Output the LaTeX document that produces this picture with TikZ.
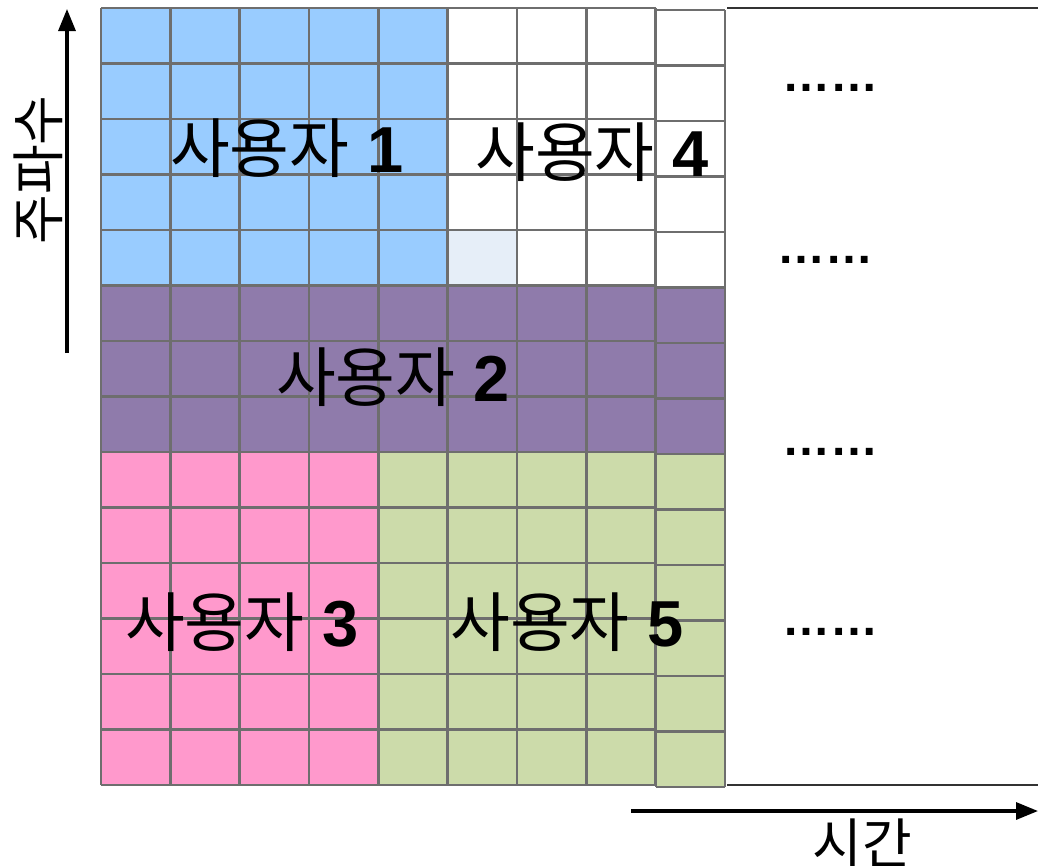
\documentclass[tikz,border=0pt]{standalone}
\usepackage{fontspec}
\setmainfont{Liberation Sans}
\newfontfamily\kr{Noto Sans CJK KR}
\usetikzlibrary{arrows.meta}
\definecolor{cblue}{HTML}{99CCFF}
\definecolor{cpurple}{HTML}{8F7BAB}
\definecolor{cpink}{HTML}{FF99CC}
\definecolor{cgreen}{HTML}{CCDBAA}
\definecolor{clight}{HTML}{E6EEF8}
\definecolor{cgrid}{HTML}{6E6E6E}
\tikzset{
  gl/.style={draw=cgrid, line width=2.8pt},
  user/.style={font=\fontsize{65}{67}\selectfont, inner sep=0pt},
  axislbl/.style={font=\kr\fontsize{54}{56}\selectfont, inner sep=0pt},
  dotslbl/.style={font=\fontsize{48}{50}\selectfont, inner sep=0pt},
  axarrow/.style={line width=3.2pt, -{Triangle[length=22pt,width=17pt]}},
  edge/.style={draw=black!80, line width=2.6pt}
}
\begin{document}
\begin{tikzpicture}[x=1pt,y=-1pt]
\useasboundingbox (0,0) rectangle (1038,865);
\def\X{69.333}\def\Y{55.5}
% fills, main columns 0-7
\fill[cblue] (101,8) rectangle (448,285.5);
\fill[white] (448,8) rectangle (656,285.5);
\fill[clight] (448,230) rectangle ({101+6*\X},285.5);
\fill[cpurple] (101,285.5) rectangle (656,452);
\fill[cpink] (101,452) rectangle (378,785);
\fill[cgreen] (378,452) rectangle (656,785);
% last column (slightly offset)
\fill[white] (656,10) rectangle (725,287.5);
\fill[cpurple] (656,287.5) rectangle (725,454);
\fill[cgreen] (656,454) rectangle (725,787);
% grid lines
\foreach \i in {0,...,8} \draw[gl] ({101+\i*\X},8) -- ({101+\i*\X},785);
\foreach \j in {0,...,14} \draw[gl] (101,{8+\j*\Y}) -- (656,{8+\j*\Y});
\foreach \j in {0,...,14} \draw[gl] (656,{10+\j*\Y}) -- (725,{10+\j*\Y});
\draw[gl] (656,10) -- (656,787);
\draw[gl] (725,10) -- (725,787);
% right open box
\draw[edge] (727,8) -- (1038,8);
\draw[edge] (727,785) -- (1038,785);
% labels
\node[user] (u1) at (287,148) {{\kr 사용자} \textbf{1}};
\node[user] (u4) at (592,152) {{\kr 사용자} \textbf{4}};
\node[user] (u2) at (393,377) {{\kr 사용자} \textbf{2}};
\node[user] (u3) at (242,622) {{\kr 사용자} \textbf{3}};
\node[user] (u5) at (567,622) {{\kr 사용자} \textbf{5}};
% dots
\node[dotslbl] (d1) at (830,88) {\bfseries ……};
\node[dotslbl] (d2) at (825,260) {\bfseries ……};
\node[dotslbl] (d3) at (830,452) {\bfseries ……};
\node[dotslbl] (d4) at (830,632) {\bfseries ……};
% axes
\coordinate (ya0) at (67,353);
\coordinate (ya1) at (67,9);
\draw[axarrow] (ya0) -- (ya1);
\coordinate (xa0) at (631,811);
\coordinate (xa1) at (1038,811);
\draw[axarrow] (xa0) -- (xa1);
\node[axislbl, rotate=90] (freq) at (38,170) {주파수};
\node[axislbl] (time) at (862,843) {시간};
\end{tikzpicture}
\end{document}
